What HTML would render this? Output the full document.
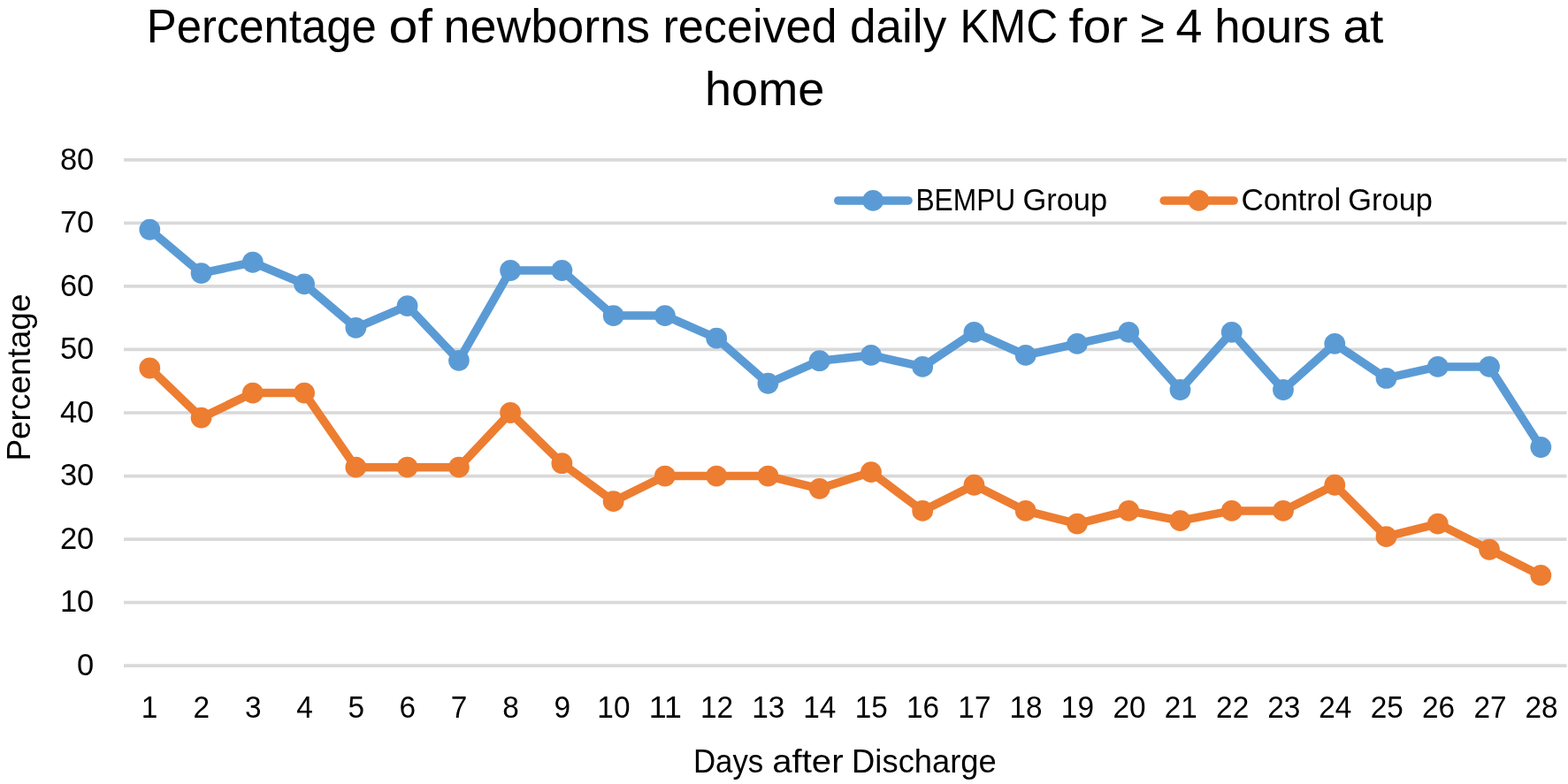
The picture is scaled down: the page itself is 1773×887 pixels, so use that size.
<!DOCTYPE html>
<html lang="en">
<head>
<meta charset="utf-8">
<title>Percentage of newborns received daily KMC for ≥ 4 hours at home</title>
<style>
html,body{margin:0;padding:0;background:#fff;}
body{width:1773px;height:887px;overflow:hidden;}
svg{display:block;}
</style>
</head>
<body>
<svg width="1773" height="887" viewBox="0 0 1773 887" font-family="'Liberation Sans', sans-serif" fill="#000">
<rect width="1773" height="887" fill="#fff"/>
<g stroke="#D9D9D9" stroke-width="3.7" fill="none">
<line x1="140.0" y1="753.15" x2="1771.6" y2="753.15"/>
<line x1="140.0" y1="681.61" x2="1771.6" y2="681.61"/>
<line x1="140.0" y1="610.07" x2="1771.6" y2="610.07"/>
<line x1="140.0" y1="538.53" x2="1771.6" y2="538.53"/>
<line x1="140.0" y1="466.99" x2="1771.6" y2="466.99"/>
<line x1="140.0" y1="395.45" x2="1771.6" y2="395.45"/>
<line x1="140.0" y1="323.91" x2="1771.6" y2="323.91"/>
<line x1="140.0" y1="252.37" x2="1771.6" y2="252.37"/>
<line x1="140.0" y1="180.83" x2="1771.6" y2="180.83"/>
</g>
<polyline points="169.30,259.77 227.56,309.11 285.82,296.77 344.08,321.44 402.34,370.78 460.60,346.11 518.86,407.78 577.11,306.02 635.37,306.02 693.63,357.12 751.89,357.12 810.15,382.67 868.41,433.77 926.67,408.22 984.93,401.95 1043.19,414.96 1101.45,375.94 1159.71,401.95 1217.97,388.95 1276.23,375.94 1334.49,440.98 1392.74,375.94 1451.00,440.98 1509.26,388.95 1567.52,427.97 1625.78,414.96 1684.04,414.96 1742.30,506.01" fill="none" stroke="#5B9BD5" stroke-width="9.5" stroke-linejoin="round" stroke-linecap="round"/>
<g fill="#5B9BD5">
<circle cx="169.30" cy="259.77" r="11.9"/>
<circle cx="227.56" cy="309.11" r="11.9"/>
<circle cx="285.82" cy="296.77" r="11.9"/>
<circle cx="344.08" cy="321.44" r="11.9"/>
<circle cx="402.34" cy="370.78" r="11.9"/>
<circle cx="460.60" cy="346.11" r="11.9"/>
<circle cx="518.86" cy="407.78" r="11.9"/>
<circle cx="577.11" cy="306.02" r="11.9"/>
<circle cx="635.37" cy="306.02" r="11.9"/>
<circle cx="693.63" cy="357.12" r="11.9"/>
<circle cx="751.89" cy="357.12" r="11.9"/>
<circle cx="810.15" cy="382.67" r="11.9"/>
<circle cx="868.41" cy="433.77" r="11.9"/>
<circle cx="926.67" cy="408.22" r="11.9"/>
<circle cx="984.93" cy="401.95" r="11.9"/>
<circle cx="1043.19" cy="414.96" r="11.9"/>
<circle cx="1101.45" cy="375.94" r="11.9"/>
<circle cx="1159.71" cy="401.95" r="11.9"/>
<circle cx="1217.97" cy="388.95" r="11.9"/>
<circle cx="1276.23" cy="375.94" r="11.9"/>
<circle cx="1334.49" cy="440.98" r="11.9"/>
<circle cx="1392.74" cy="375.94" r="11.9"/>
<circle cx="1451.00" cy="440.98" r="11.9"/>
<circle cx="1509.26" cy="388.95" r="11.9"/>
<circle cx="1567.52" cy="427.97" r="11.9"/>
<circle cx="1625.78" cy="414.96" r="11.9"/>
<circle cx="1684.04" cy="414.96" r="11.9"/>
<circle cx="1742.30" cy="506.01" r="11.9"/>
</g>
<polyline points="169.30,416.49 227.56,472.60 285.82,444.55 344.08,444.55 402.34,528.71 460.60,528.71 518.86,528.71 577.11,466.99 635.37,524.22 693.63,567.15 751.89,538.53 810.15,538.53 868.41,538.53 926.67,552.84 984.93,534.15 1043.19,577.95 1101.45,548.75 1159.71,577.95 1217.97,592.55 1276.23,577.95 1334.49,589.20 1392.74,577.95 1451.00,577.95 1509.26,548.75 1567.52,607.15 1625.78,592.55 1684.04,621.75 1742.30,650.95" fill="none" stroke="#ED7D31" stroke-width="9.5" stroke-linejoin="round" stroke-linecap="round"/>
<g fill="#ED7D31">
<circle cx="169.30" cy="416.49" r="11.9"/>
<circle cx="227.56" cy="472.60" r="11.9"/>
<circle cx="285.82" cy="444.55" r="11.9"/>
<circle cx="344.08" cy="444.55" r="11.9"/>
<circle cx="402.34" cy="528.71" r="11.9"/>
<circle cx="460.60" cy="528.71" r="11.9"/>
<circle cx="518.86" cy="528.71" r="11.9"/>
<circle cx="577.11" cy="466.99" r="11.9"/>
<circle cx="635.37" cy="524.22" r="11.9"/>
<circle cx="693.63" cy="567.15" r="11.9"/>
<circle cx="751.89" cy="538.53" r="11.9"/>
<circle cx="810.15" cy="538.53" r="11.9"/>
<circle cx="868.41" cy="538.53" r="11.9"/>
<circle cx="926.67" cy="552.84" r="11.9"/>
<circle cx="984.93" cy="534.15" r="11.9"/>
<circle cx="1043.19" cy="577.95" r="11.9"/>
<circle cx="1101.45" cy="548.75" r="11.9"/>
<circle cx="1159.71" cy="577.95" r="11.9"/>
<circle cx="1217.97" cy="592.55" r="11.9"/>
<circle cx="1276.23" cy="577.95" r="11.9"/>
<circle cx="1334.49" cy="589.20" r="11.9"/>
<circle cx="1392.74" cy="577.95" r="11.9"/>
<circle cx="1451.00" cy="577.95" r="11.9"/>
<circle cx="1509.26" cy="548.75" r="11.9"/>
<circle cx="1567.52" cy="607.15" r="11.9"/>
<circle cx="1625.78" cy="592.55" r="11.9"/>
<circle cx="1684.04" cy="621.75" r="11.9"/>
<circle cx="1742.30" cy="650.95" r="11.9"/>
</g>
<line x1="947.75" y1="226.9" x2="1027.05" y2="226.9" stroke="#5B9BD5" stroke-width="9.5" stroke-linecap="round"/>
<circle cx="987.2" cy="226.9" r="11.9" fill="#5B9BD5"/>
<line x1="1316.15" y1="226.9" x2="1395.15" y2="226.9" stroke="#ED7D31" stroke-width="9.5" stroke-linecap="round"/>
<circle cx="1355.5" cy="226.9" r="11.9" fill="#ED7D31"/>
<text y="48.20" font-size="53.0"><tspan x="165.83" textLength="259.93" lengthAdjust="spacingAndGlyphs">Percentage</tspan> <tspan x="439.51" textLength="49.40" lengthAdjust="spacingAndGlyphs">of</tspan> <tspan x="501.52" textLength="233.52" lengthAdjust="spacingAndGlyphs">newborns</tspan> <tspan x="749.43" textLength="197.23" lengthAdjust="spacingAndGlyphs">received</tspan> <tspan x="960.97" textLength="109.23" lengthAdjust="spacingAndGlyphs">daily</tspan> <tspan x="1085.52" textLength="110.58" lengthAdjust="spacingAndGlyphs">KMC</tspan> <tspan x="1208.49" textLength="66.86" lengthAdjust="spacingAndGlyphs">for</tspan> <tspan x="1289.22" textLength="27.34" lengthAdjust="spacingAndGlyphs">≥</tspan> <tspan x="1329.57" textLength="29.91" lengthAdjust="spacingAndGlyphs">4</tspan> <tspan x="1373.15" textLength="131.76" lengthAdjust="spacingAndGlyphs">hours</tspan> <tspan x="1518.46" textLength="45.94" lengthAdjust="spacingAndGlyphs">at</tspan></text>
<text y="118.50" font-size="53.0"><tspan x="797.05" textLength="135.25" lengthAdjust="spacingAndGlyphs">home</tspan></text>
<text y="873.80" font-size="37.5"><tspan x="783.94" textLength="79.31" lengthAdjust="spacingAndGlyphs">Days</tspan> <tspan x="873.19" textLength="80.37" lengthAdjust="spacingAndGlyphs">after</tspan> <tspan x="963.12" textLength="163.70" lengthAdjust="spacingAndGlyphs">Discharge</tspan></text>
<text y="237.80" font-size="34.5"><tspan x="1035.40" textLength="112.85" lengthAdjust="spacingAndGlyphs">BEMPU</tspan> <tspan x="1156.47" textLength="95.68" lengthAdjust="spacingAndGlyphs">Group</tspan></text>
<text y="237.80" font-size="34.5"><tspan x="1403.42" textLength="112.82" lengthAdjust="spacingAndGlyphs">Control</tspan> <tspan x="1524.37" textLength="95.57" lengthAdjust="spacingAndGlyphs">Group</tspan></text>
<text y="0.00" font-size="37.5" transform="translate(33.8,518.6) rotate(-90)"><tspan x="-3.03" textLength="189.07" lengthAdjust="spacingAndGlyphs">Percentage</tspan></text>
<text x="87.04" y="763.95" font-size="35.5" textLength="19.15" lengthAdjust="spacingAndGlyphs">0</text>
<text x="67.89" y="692.41" font-size="35.5" textLength="38.30" lengthAdjust="spacingAndGlyphs">10</text>
<text x="67.89" y="620.87" font-size="35.5" textLength="38.30" lengthAdjust="spacingAndGlyphs">20</text>
<text x="67.89" y="549.33" font-size="35.5" textLength="38.30" lengthAdjust="spacingAndGlyphs">30</text>
<text x="67.89" y="477.79" font-size="35.5" textLength="38.30" lengthAdjust="spacingAndGlyphs">40</text>
<text x="67.89" y="406.25" font-size="35.5" textLength="38.30" lengthAdjust="spacingAndGlyphs">50</text>
<text x="67.89" y="334.71" font-size="35.5" textLength="38.30" lengthAdjust="spacingAndGlyphs">60</text>
<text x="67.89" y="263.17" font-size="35.5" textLength="38.30" lengthAdjust="spacingAndGlyphs">70</text>
<text x="67.89" y="191.63" font-size="35.5" textLength="38.30" lengthAdjust="spacingAndGlyphs">80</text>
<text x="159.86" y="812.20" font-size="35.5" textLength="18.56" lengthAdjust="spacingAndGlyphs">1</text>
<text x="218.58" y="812.20" font-size="35.5" textLength="18.56" lengthAdjust="spacingAndGlyphs">2</text>
<text x="276.94" y="812.20" font-size="35.5" textLength="18.56" lengthAdjust="spacingAndGlyphs">3</text>
<text x="335.20" y="812.20" font-size="35.5" textLength="18.56" lengthAdjust="spacingAndGlyphs">4</text>
<text x="393.39" y="812.20" font-size="35.5" textLength="18.56" lengthAdjust="spacingAndGlyphs">5</text>
<text x="451.50" y="812.20" font-size="35.5" textLength="18.56" lengthAdjust="spacingAndGlyphs">6</text>
<text x="509.86" y="812.20" font-size="35.5" textLength="18.56" lengthAdjust="spacingAndGlyphs">7</text>
<text x="568.14" y="812.20" font-size="35.5" textLength="18.56" lengthAdjust="spacingAndGlyphs">8</text>
<text x="626.40" y="812.20" font-size="35.5" textLength="18.56" lengthAdjust="spacingAndGlyphs">9</text>
<text x="675.36" y="812.20" font-size="35.5" textLength="37.12" lengthAdjust="spacingAndGlyphs">10</text>
<text x="733.78" y="812.20" font-size="35.5" textLength="37.12" lengthAdjust="spacingAndGlyphs">11</text>
<text x="792.06" y="812.20" font-size="35.5" textLength="37.12" lengthAdjust="spacingAndGlyphs">12</text>
<text x="850.21" y="812.20" font-size="35.5" textLength="37.12" lengthAdjust="spacingAndGlyphs">13</text>
<text x="908.23" y="812.20" font-size="35.5" textLength="37.12" lengthAdjust="spacingAndGlyphs">14</text>
<text x="966.70" y="812.20" font-size="35.5" textLength="37.12" lengthAdjust="spacingAndGlyphs">15</text>
<text x="1024.99" y="812.20" font-size="35.5" textLength="37.12" lengthAdjust="spacingAndGlyphs">16</text>
<text x="1083.36" y="812.20" font-size="35.5" textLength="37.12" lengthAdjust="spacingAndGlyphs">17</text>
<text x="1141.50" y="812.20" font-size="35.5" textLength="37.12" lengthAdjust="spacingAndGlyphs">18</text>
<text x="1199.83" y="812.20" font-size="35.5" textLength="37.12" lengthAdjust="spacingAndGlyphs">19</text>
<text x="1258.38" y="812.20" font-size="35.5" textLength="37.12" lengthAdjust="spacingAndGlyphs">20</text>
<text x="1316.80" y="812.20" font-size="35.5" textLength="37.12" lengthAdjust="spacingAndGlyphs">21</text>
<text x="1375.09" y="812.20" font-size="35.5" textLength="37.12" lengthAdjust="spacingAndGlyphs">22</text>
<text x="1433.24" y="812.20" font-size="35.5" textLength="37.12" lengthAdjust="spacingAndGlyphs">23</text>
<text x="1491.25" y="812.20" font-size="35.5" textLength="37.12" lengthAdjust="spacingAndGlyphs">24</text>
<text x="1549.72" y="812.20" font-size="35.5" textLength="37.12" lengthAdjust="spacingAndGlyphs">25</text>
<text x="1608.02" y="812.20" font-size="35.5" textLength="37.12" lengthAdjust="spacingAndGlyphs">26</text>
<text x="1666.38" y="812.20" font-size="35.5" textLength="37.12" lengthAdjust="spacingAndGlyphs">27</text>
<text x="1724.53" y="812.20" font-size="35.5" textLength="37.12" lengthAdjust="spacingAndGlyphs">28</text>
</svg>
</body>
</html>
